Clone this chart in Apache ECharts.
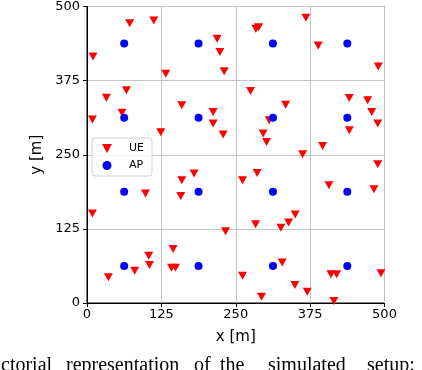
<!DOCTYPE html>
<html><head><meta charset="utf-8">
<script src="https://cdn.jsdelivr.net/npm/echarts@6/dist/echarts.min.js"></script>
<style>html,body{margin:0;padding:0;background:#fff;overflow:hidden}#c{width:422px;height:370px}</style>
</head><body><div id="c"></div>
<script>
const ueX = [71.8,112.2,10.1,132.4,218.7,223.3,230.5,66.3,32.6,58.9,9.1,159.3,212,212,228.8,124,
  367.9,283.8,288.4,388.6,489.6,274.9,333.8,306.2,296.1,301.8,362.4,440.8,471.7,478.5,488.6,440.8,396,
  159.3,180,98.3,157.6,9.1,232.8,144.7,103.8,105,80.2,142,148.7,36,
  488.6,286,261.4,406.6,482.3,349.9,338.8,283.3,325.9,328.1,261.4,349.4,370.1,293.4,410,419.6,494.1,415];
const ueY = [471.9,476.4,415.8,386.7,445.6,423.1,390.6,358.6,346.3,321,309.3,333.3,322,302.5,284,287.9,
  481,462.5,465.2,434.3,399,357.4,334.5,308.1,285.7,271.5,250.8,345.6,341.8,322,302.5,291.2,264.8,
  207.1,218.4,184.7,180.6,151,121.2,90.9,79.6,64,54.4,59.4,59.4,43.3,
  234,219.4,207.1,198.7,191.9,149.3,135.9,133,126.8,68.5,46,30.3,19,10.6,48.3,48.3,50,3.4];
const apX = [62.5,187.5,312.5,437.5];
const apY = [62.5,187.5,312.5,437.5];
const ticks = [0,125,250,375,500];
const captionWords = ["ctorial","representation","of","the","simulated","setup:"];
const captionX = [1,66,194,220,268,367];

const ueData = ueX.map((x,i)=>[x,ueY[i]]);
const apData = [];
apY.forEach(y=>apX.forEach(x=>apData.push([x,y])));
const tri = 'path://M0,0L10,0L5,9Z';
const chart = echarts.init(document.getElementById('c'));
const axisCommon = {
  type:'value', min:0, max:500, interval:125,
  axisLine:{show:true,lineStyle:{color:'#000',width:1}},
  axisTick:{show:true,length:4,lineStyle:{color:'#000'}},
  axisLabel:{color:'#000',fontFamily:'DejaVu Sans',fontSize:13,formatter:v=>ticks.includes(v)?String(v):''},
  splitLine:{show:true,lineStyle:{color:'#c4c4c4',width:1}}
};
chart.setOption({
  animation:false,
  grid:{left:87,right:37.5,top:6,bottom:67,show:true,borderColor:'#000',borderWidth:1},
  xAxis:Object.assign({},axisCommon,{name:'x [m]',nameLocation:'middle',nameGap:27,
    nameTextStyle:{color:'#000',fontFamily:'DejaVu Sans',fontSize:15},
    axisLabel:Object.assign({},axisCommon.axisLabel,{margin:5})}),
  yAxis:Object.assign({},axisCommon,{name:'y [m]',nameLocation:'middle',nameGap:38,
    nameTextStyle:{color:'#000',fontFamily:'DejaVu Sans',fontSize:15},
    axisLabel:Object.assign({},axisCommon.axisLabel,{margin:7})}),
  legend:{orient:'vertical',left:92,top:138,padding:[5,8,5,10],itemGap:6,
    backgroundColor:'rgba(255,255,255,0.85)',borderColor:'#d0d0d0',borderWidth:1,borderRadius:3,
    itemWidth:10,itemHeight:9,
    textStyle:{color:'#000',fontFamily:'DejaVu Sans',fontSize:11,padding:[0,0,0,12]},
    data:[{name:'UE',icon:tri},{name:'AP',icon:'circle'}]},
  series:[
    {name:'UE',type:'scatter',data:ueData,symbol:tri,symbolSize:[9,8],itemStyle:{color:'#ff0000',opacity:1}},
    {name:'AP',type:'scatter',data:apData,symbol:'circle',symbolSize:8,itemStyle:{color:'#0000ff',opacity:1}}
  ],
  graphic: captionWords.map((w,i)=>({type:'text',left:captionX[i],top:356,
    style:{text:w,font:'20px "Liberation Serif"',fill:'#000'}}))
});
</script></body></html>
